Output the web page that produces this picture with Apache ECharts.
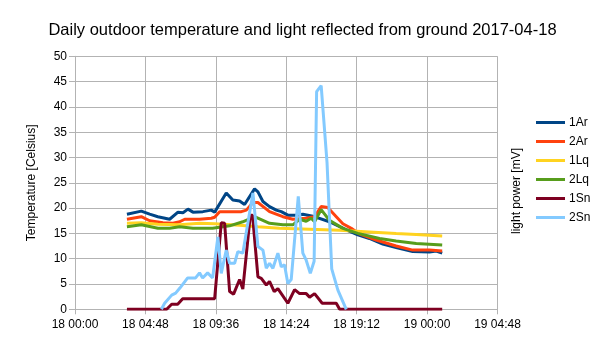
<!DOCTYPE html>
<html>
<head>
<meta charset="utf-8">
<script src="https://cdn.jsdelivr.net/npm/echarts@6/dist/echarts.min.js"></script>
<style>
html,body{margin:0;padding:0;background:#fff;}
#chart{width:605px;height:340px;}
</style>
</head>
<body>
<div id="chart"></div>
<script>
// Time in hours since 2017-04-18 00:00
const xTicks = [0, 4.8, 9.6, 14.4, 19.2, 24, 28.8];
const yTicks = [0, 5, 10, 15, 20, 25, 30, 35, 40, 45, 50];
const seriesNames = ['1Ar', '2Ar', '1Lq', '2Lq', '1Sn', '2Sn'];

const t1Ar = [3.54,4.52,5.09,5.65,6.45,7.02,7.36,7.70,8.04,8.72,9.29,9.52,10.31,10.76,11.22,11.56,12.24,12.47,12.81,13.26,13.72,14.06,14.51,15.08,15.53,16.21,17.34,18.15,18.49,19.28,19.39,20.07,20.98,21.89,23.02,24.16,24.62,25.03];
const v1Ar = [18.8,19.4,18.8,18.3,17.8,19.2,19.1,19.8,19.2,19.3,19.6,19.2,23.0,21.6,21.4,20.7,23.8,23.2,21.3,20.3,19.6,19.3,18.6,18.6,18.8,18.4,17.3,16.2,15.7,14.7,14.5,14.0,12.9,12.2,11.4,11.3,11.5,11.1];

const t2Ar = [3.54,4.52,5.09,5.99,6.68,7.13,7.48,8.49,9.29,9.52,9.86,11.34,11.68,12.13,12.47,13.26,14.17,14.85,15.76,16.33,16.78,17.23,17.81,18.26,18.83,19.39,20.53,21.89,23.02,24.16,25.03];
const v2Ar = [17.8,18.3,17.5,17.1,17.0,17.3,17.8,17.8,18.0,18.2,19.3,19.3,19.6,21.1,21.1,19.3,18.3,17.8,18.0,18.3,20.3,20.1,18.3,16.9,16.0,14.9,13.7,12.5,11.7,11.7,11.5];

const t1Lq = [3.54,4.52,5.65,7.13,8.49,9.52,11.22,12.47,13.94,15.99,18.04,20.07,21.89,23.26,25.03];
const v1Lq = [17.0,17.1,16.8,16.7,17.0,16.9,16.6,16.3,16.0,15.8,15.6,15.3,15.0,14.8,14.5];

const t2Lq = [3.54,4.52,5.65,6.45,7.13,8.04,9.38,10.54,11.44,12.24,13.26,14.17,14.85,15.31,15.76,16.10,16.33,16.78,17.34,18.26,19.28,20.76,21.89,23.26,25.03];
const v2Lq = [16.3,16.7,16.0,16.0,16.3,16.0,16.0,16.5,17.3,18.3,17.0,16.7,16.7,17.8,17.4,18.0,17.3,19.7,17.6,16.0,15.0,14.0,13.5,13.0,12.7];

const t1Sn = [3.54,6.25,6.59,7.00,7.34,9.52,9.97,10.20,10.54,10.81,11.22,11.44,11.95,12.10,12.47,12.70,13.04,13.26,13.58,13.83,14.51,14.97,15.31,15.76,15.99,16.33,16.85,17.81,18.04,25.03];
const v1Sn = [0,0,1.0,1.0,2.1,2.1,17.1,17.0,3.5,3.0,5.9,4.0,18.6,18.6,6.4,6.1,4.8,5.5,3.5,4.1,1.2,3.9,3.1,3.1,2.4,3.1,1.2,1.2,0,0];

const t2Sn = [5.89,6.11,6.59,6.86,7.15,7.68,8.22,8.49,8.70,9.04,9.38,9.74,9.97,10.31,10.54,10.88,11.10,11.44,11.78,12.13,12.47,12.81,13.04,13.26,13.49,13.83,14.06,14.28,14.51,14.74,15.22,15.53,15.76,16.04,16.30,16.47,16.78,17.18,17.50,17.92,18.49];
const v2Sn = [0,1.2,2.8,3.2,4.2,6.2,6.2,7.2,6.2,7.2,6.2,14.3,7.1,11.7,9.1,9.1,11.4,11.1,17.0,23.0,12.4,11.7,8.1,9.1,8.1,11.1,8.4,8.8,5.1,5.9,22.3,11.1,9.7,7.1,9.5,43.0,44.2,29.0,8.0,3.8,0];

const colors = ['#004586','#ff420e','#ffd320','#579d1c','#7e0021','#83caff'];
const times = [t1Ar, t2Ar, t1Lq, t2Lq, t1Sn, t2Sn];
const values = [v1Ar, v2Ar, v1Lq, v2Lq, v1Sn, v2Sn];

function fmtTime(v) {
  const m = Math.round(v * 60);
  const day = 18 + Math.floor(m / 1440);
  const r = m % 1440;
  const hh = Math.floor(r / 60), mm = r % 60;
  return day + ' ' + String(hh).padStart(2, '0') + ':' + String(mm).padStart(2, '0');
}

const chart = echarts.init(document.getElementById('chart'), null, {renderer: 'canvas'});
const gridColor = '#b3b3b3';
const font = 'Liberation Sans, Arial, sans-serif';

chart.setOption({
  animation: false,
  color: colors,
  textStyle: {fontFamily: font},
  title: {
    text: 'Daily outdoor temperature and light reflected from ground 2017-04-18',
    left: 'center', top: 17,
    textStyle: {fontSize: 16.5, fontWeight: 'normal', color: '#000', fontFamily: font}
  },
  grid: {left: 75, right: 107.5, top: 56.3, bottom: 30.7, containLabel: false},
  legend: {
    orient: 'vertical', left: 536, top: 116, padding: 0,
    icon: 'rect', itemWidth: 29, itemHeight: 3, itemGap: 6,
    textStyle: {fontSize: 12, color: '#000', fontFamily: font, lineHeight: 13, padding: [0,0,0,-1]},
    data: seriesNames
  },
  graphic: [{
    type: 'text', left: 511, top: 148, rotation: Math.PI / 2,
    style: {text: 'light power [mV]', fontSize: 12, fill: '#000', font: '12px ' + font}
  }],
  xAxis: {
    type: 'value', min: xTicks[0], max: xTicks[xTicks.length - 1], interval: 4.8,
    axisLine: {show: true, lineStyle: {color: gridColor}},
    axisTick: {show: true, length: 5, lineStyle: {color: gridColor}},
    splitLine: {show: true, lineStyle: {color: gridColor}},
    axisLabel: {color: '#000', fontSize: 12, margin: 9, formatter: fmtTime, showMaxLabel: true, showMinLabel: true}
  },
  yAxis: {
    type: 'value', min: yTicks[0], max: yTicks[yTicks.length - 1], interval: 5,
    name: 'Temperature [Celsius]', nameLocation: 'middle', nameGap: 37,
    nameTextStyle: {fontSize: 12, color: '#000'},
    axisLine: {show: true, lineStyle: {color: gridColor}},
    axisTick: {show: true, length: 6, lineStyle: {color: gridColor}},
    splitLine: {show: true, lineStyle: {color: gridColor}},
    axisLabel: {color: '#000', fontSize: 12, margin: 8}
  },
  series: seriesNames.map((n, i) => ({
    name: n, type: 'line', showSymbol: false, symbol: 'none',
    lineStyle: {width: 3, color: colors[i]},
    data: times[i].map((t, j) => [t, values[i][j]])
  }))
});
</script>
</body>
</html>
